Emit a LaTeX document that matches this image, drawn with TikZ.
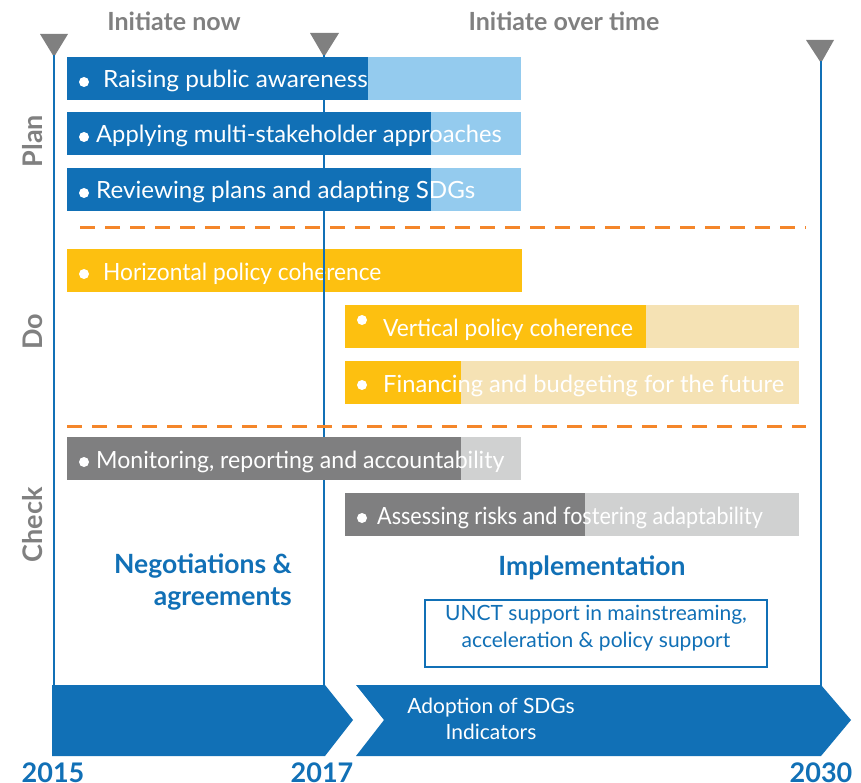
\documentclass[tikz,border=0pt]{standalone}
\usepackage{fontspec}
\usepackage{graphicx}
\setmainfont{Lato}
\definecolor{blueD}{HTML}{1170B6}
\definecolor{blueL}{HTML}{94CBEE}
\definecolor{yelD}{HTML}{FDC010}
\definecolor{yelL}{HTML}{F5E2B4}
\definecolor{grayD}{HTML}{7F7F80}
\definecolor{grayL}{HTML}{D0D1D1}
\definecolor{orangeD}{HTML}{F4862A}
\definecolor{txtgray}{HTML}{808080}
% #1 name, #2 x0, #3 y0, #4 x1, #5 xsplit, #6 dark, #7 light, #8 text x, #9 text
\newcommand\tbar[9]{%
  \fill[#7] (#2,#3) rectangle (#4,#3+43);
  \fill[#6] (#2,#3) rectangle (#5,#3+43);
  \node[dot] (#1dot) at (#2+17,#3+\dotoff) {};
  \node[bartext] (#1) at (#8,#3+31) {#9};
}
\newcommand\dotoff{25}
\newcommand\sx[2]{\scalebox{#1}[1]{#2}}
\begin{document}
\begin{tikzpicture}[x=1pt,y=-1pt,
  bartext/.style={text=white, font=\fontsize{23.7}{26}\selectfont, anchor=base west, inner sep=0pt},
  dot/.style={circle, fill=white, inner sep=0pt, minimum size=10pt},
  tline/.style={blueD, line width=2.5pt},
  tri/.style={fill=txtgray},
  dashsep/.style={orangeD, line width=3pt, dash pattern=on 15pt off 10pt},
  head/.style={text=txtgray, font=\bfseries\fontsize{25}{28}\selectfont},
  side/.style={text=txtgray, font=\bfseries\fontsize{27}{30}\selectfont, rotate=90},
  phase/.style={text=blueD, font=\bfseries\fontsize{26.5}{32}\selectfont},
  year/.style={text=blueD, font=\bfseries\fontsize{27}{30}\selectfont, anchor=north, inner sep=0pt},
]
\useasboundingbox[fill=white] (0,0) rectangle (861,783);

% headers
\node[head] (h1) at (174,21) {Initiate now};
\node[head] (h2) at (564,21) {Initiate over time};

% side labels
\node[side] (plan) at (33,141) {Plan};
\node[side] (do) at (33,332) {Do};
\node[side] (check) at (33,525) {Check};

% horizontal bar (under the 2017 line)
\tbar{hpc}{67}{249}{522}{522}{yelD}{yelD}{103}{\sx{0.96}{Horizontal policy coherence}}

% triangles and timeline lines
\fill[tri] (40,34) -- (68,34) -- (54,57) -- cycle;
\fill[tri] (310,33) -- (339,33) -- (324,57) -- cycle;
\fill[tri] (806,40) -- (834,40) -- (821,63) -- cycle;
\coordinate (t15) at (54,55);
\coordinate (t17) at (324,55);
\coordinate (t30) at (821,61);
\coordinate (b15) at (54,686);
\coordinate (b17) at (324,686);
\coordinate (b30) at (821,686);
\draw[tline] (t15) -- (b15);
\draw[tline] (t17) -- (b17);
\draw[tline] (t30) -- (b30);

% Plan bars
\tbar{rpa}{67}{57}{521}{368}{blueD}{blueL}{103}{\sx{1.03}{Raising public awareness}}
\tbar{ams}{67}{112}{521}{431}{blueD}{blueL}{96}{Applying multi-stakeholder approaches}
\tbar{rpa2}{67}{168}{521}{431}{blueD}{blueL}{96}{\sx{1.02}{Reviewing plans and adapting SDGs}}

% separators
\coordinate (s1a) at (80,228); \coordinate (s1b) at (806,228);
\coordinate (s2a) at (67,426); \coordinate (s2b) at (806,426);
\draw[dashsep] (s1a) -- (s1b);
\draw[dashsep] (s2a) -- (s2b);

% Do bars
\renewcommand\dotoff{15}
\tbar{vpc}{345}{305}{799}{646}{yelD}{yelL}{383}{\sx{0.96}{Vertical policy coherence}}
\renewcommand\dotoff{24}
\tbar{fin}{345}{361}{799}{461}{yelD}{yelL}{383}{Financing and budgeting for the future}

% Check bars
\renewcommand\dotoff{25}
\tbar{mon}{67}{437}{521}{461}{grayD}{grayL}{96}{\sx{0.975}{Monitoring, reporting and accountability}}
\tbar{ass}{345}{493}{799}{585}{grayD}{grayL}{377}{\sx{0.91}{Assessing risks and fostering adaptability}}

% phases
\node[phase, align=right, anchor=north east, inner sep=0pt] (neg) at (292,554) {Negotiations \&\\agreements};
\node[phase] (impl) at (592,568) {Implementation};
\node[draw=blueD, line width=2pt, minimum width=342pt, minimum height=67pt, inner sep=0pt] (unct) at (596,633.5) {};
\node[text=blueD, align=center, font=\fontsize{21}{27}\selectfont] (unctt) at (596,628.5) {UNCT support in mainstreaming,\\acceleration \& policy support};

% bottom arrows
\fill[blueD] (52,685) -- (325,685) -- (353,720) -- (325,756) -- (52,756) -- cycle;
\fill[blueD] (356,685) -- (821,685) -- (851,720) -- (821,756) -- (356,756) -- (384,720) -- cycle;
\node[text=white, align=center, font=\fontsize{21}{26}\selectfont] (adopt) at (491,719) {Adoption of SDGs\\Indicators};

% years
\node[year] (y15) at (53,763) {2015};
\node[year] (y17) at (322,763) {2017};
\node[year] (y30) at (821,763) {2030};
\end{tikzpicture}
\end{document}
